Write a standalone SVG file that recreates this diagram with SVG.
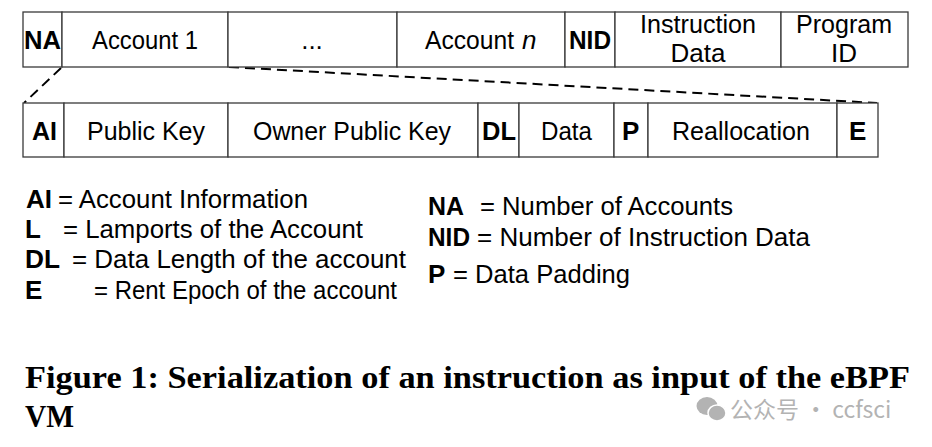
<svg xmlns="http://www.w3.org/2000/svg" width="932" height="447" viewBox="0 0 932 447">
<style>
.cell{fill:#fff;stroke:#3a3a3a;stroke-width:1.3}
.t{font-family:"Liberation Sans",Arial,sans-serif;font-size:26px;fill:#000}
.b{font-weight:bold}
.c{text-anchor:middle}
.i{font-style:italic}
.dash{fill:none;stroke:#000;stroke-width:2;stroke-dasharray:10,6}
.cap{font-family:"Liberation Serif","Times New Roman",serif;font-weight:bold;font-size:32px;fill:#000}
.wm{font-family:"Noto Sans CJK SC","Liberation Sans",sans-serif;font-size:23px;fill:#b3b3b3}
</style>
<rect width="932" height="447" fill="#fff"/>
<g id="connectors">
<line class="dash" x1="61" y1="68" x2="24" y2="103"/>
<line class="dash" x1="229" y1="67" x2="877" y2="103"/>
</g>
<g id="top-row">
<g id="NA"><rect class="cell" x="23" y="12" width="39" height="55"/><text class="t b" x="24" y="49" textLength="37" lengthAdjust="spacingAndGlyphs">NA</text></g>
<g id="account1"><rect class="cell" x="62" y="12" width="166" height="55"/><text class="t" x="92" y="49" textLength="106" lengthAdjust="spacingAndGlyphs">Account 1</text></g>
<g id="ellipsis"><rect class="cell" x="228" y="12" width="169" height="55"/><text class="t c" x="312" y="49">...</text></g>
<g id="accountn"><rect class="cell" x="397" y="12" width="168" height="55"/><text class="t" x="425" y="49" textLength="89" lengthAdjust="spacingAndGlyphs">Account</text><text class="t i" x="522" y="49">n</text></g>
<g id="NID"><rect class="cell" x="565" y="12" width="50" height="55"/><text class="t b" x="569" y="49" textLength="42" lengthAdjust="spacingAndGlyphs">NID</text></g>
<g id="instruction-data"><rect class="cell" x="615" y="12" width="166" height="55"/><text class="t" x="640" y="33" textLength="116" lengthAdjust="spacingAndGlyphs">Instruction</text><text class="t c" x="698" y="62">Data</text></g>
<g id="program-id"><rect class="cell" x="781" y="12" width="127" height="55"/><text class="t" x="796" y="33" textLength="96" lengthAdjust="spacingAndGlyphs">Program</text><text class="t c" x="844" y="62">ID</text></g>
</g>
<g id="account-row">
<g id="AI"><rect class="cell" x="23" y="103" width="41" height="54"/><text class="t b" x="32" y="140" textLength="25" lengthAdjust="spacingAndGlyphs">AI</text></g>
<g id="public-key"><rect class="cell" x="64" y="103" width="164" height="54"/><text class="t" x="87" y="140" textLength="118" lengthAdjust="spacingAndGlyphs">Public Key</text></g>
<g id="owner-public-key"><rect class="cell" x="228" y="103" width="250" height="54"/><text class="t" x="253" y="140" textLength="198" lengthAdjust="spacingAndGlyphs">Owner Public Key</text></g>
<g id="DL"><rect class="cell" x="478" y="103" width="41" height="54"/><text class="t b" x="482" y="140" textLength="34" lengthAdjust="spacingAndGlyphs">DL</text></g>
<g id="data"><rect class="cell" x="519" y="103" width="95" height="54"/><text class="t" x="541" y="140" textLength="51" lengthAdjust="spacingAndGlyphs">Data</text></g>
<g id="P"><rect class="cell" x="614" y="103" width="34" height="54"/><text class="t b" x="622" y="140">P</text></g>
<g id="reallocation"><rect class="cell" x="648" y="103" width="189" height="54"/><text class="t" x="672" y="140" textLength="138" lengthAdjust="spacingAndGlyphs">Reallocation</text></g>
<g id="E"><rect class="cell" x="837" y="103" width="41" height="54"/><text class="t b" x="849" y="140">E</text></g>
</g>
<g id="legend">
<text class="t b" x="26" y="208" textLength="26" lengthAdjust="spacingAndGlyphs">AI</text><text class="t" x="58" y="208" textLength="250" lengthAdjust="spacingAndGlyphs">= Account Information</text>
<text class="t b" x="25" y="238">L</text><text class="t" x="63" y="238" textLength="300" lengthAdjust="spacingAndGlyphs">= Lamports of the Account</text>
<text class="t b" x="25" y="268" textLength="35" lengthAdjust="spacingAndGlyphs">DL</text><text class="t" x="72" y="268" textLength="334" lengthAdjust="spacingAndGlyphs">= Data Length of the account</text>
<text class="t b" x="25" y="299">E</text><text class="t" x="94" y="299" textLength="303" lengthAdjust="spacingAndGlyphs">= Rent Epoch of the account</text>
<text class="t b" x="428" y="215" textLength="36" lengthAdjust="spacingAndGlyphs">NA</text><text class="t" x="480" y="215" textLength="253" lengthAdjust="spacingAndGlyphs">= Number of Accounts</text>
<text class="t b" x="428" y="246" textLength="42" lengthAdjust="spacingAndGlyphs">NID</text><text class="t" x="477" y="246" textLength="333" lengthAdjust="spacingAndGlyphs">= Number of Instruction Data</text>
<text class="t b" x="428" y="283">P</text><text class="t" x="453" y="283" textLength="177" lengthAdjust="spacingAndGlyphs">= Data Padding</text>
</g>
<g id="caption">
<text class="cap" x="25" y="388" textLength="885" lengthAdjust="spacingAndGlyphs">Figure 1: Serialization of an instruction as input of the eBPF</text>
<text class="cap" x="25" y="427" textLength="49" lengthAdjust="spacingAndGlyphs">VM</text>
</g>
<g id="watermark">
<ellipse cx="707" cy="406" rx="10.5" ry="9" fill="#b3b3b3"/>
<ellipse cx="717" cy="413" rx="9" ry="8" fill="#b3b3b3" stroke="#fff" stroke-width="1.5"/>
<text class="wm" x="730" y="418">公众号 · ccfsci</text>
</g>
</svg>
